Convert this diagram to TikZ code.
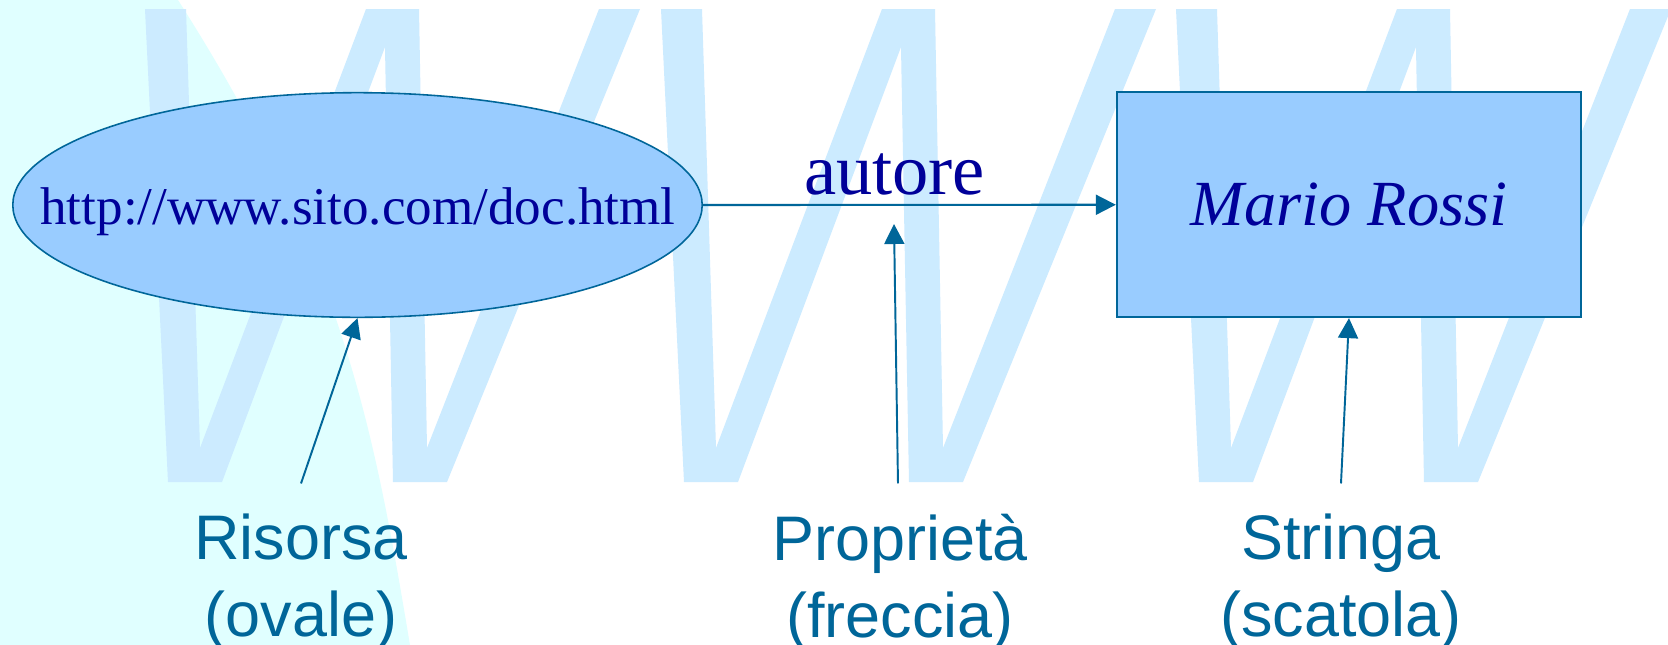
\documentclass[tikz,border=0pt]{standalone}
\usepackage{fontspec}
\setmainfont{Liberation Serif}
\newfontfamily\arialfont{Liberation Sans}
\definecolor{wwwblue}{RGB}{204,235,255}
\definecolor{bgcyan}{RGB}{224,255,255}
\definecolor{nodefill}{RGB}{153,204,255}
\definecolor{linkblue}{RGB}{0,102,153}
\definecolor{navytext}{RGB}{0,0,153}
\usetikzlibrary{shapes.geometric, arrows.meta}

\begin{document}
\begin{tikzpicture}[
  x=0.01cm, y=-0.01cm,
  oval/.style={ellipse, draw=linkblue, fill=nodefill, line width=0.45pt, minimum width=6.89cm, minimum height=2.245cm, inner sep=0pt},
  sbox/.style={draw=linkblue, fill=nodefill, line width=0.6pt, minimum width=4.64cm, minimum height=2.245cm, inner sep=0pt, text=navytext, font=\fontsize{18.3}{22}\selectfont\itshape},
  lbl/.style={align=center, anchor=north, inner sep=0pt, text=linkblue, font=\arialfont\fontsize{17.9}{21.9}\selectfont},
  ptr/.style={draw=linkblue, line width=0.55pt, -{Triangle[length=0.2cm, width=0.2cm]}}
]
  % background and WWW watermark
  \useasboundingbox (0,0) rectangle (1668,645);
  \fill[white] (0,0) rectangle (1668,645);
  \fill[bgcyan] (0,0) -- (178,0) .. controls (344,260) and (374,430) .. (410,645) -- (0,645) -- cycle;
  \foreach \dx in {0,516,1031}
    \fill[wwwblue, shift={(\dx,0)}] (145,9) -- (186,9) -- (200,448) -- (366,9) -- (419,9) -- (427,448) -- (599,9) -- (640,9) -- (447,482) -- (393,482) -- (385,47) -- (222,482) -- (168,482) -- cycle;

  % nodes
  \node[oval] (res) at (357.5,205) {};
  \node[anchor=base, inner sep=0pt, text=navytext, font=\fontsize{15.1}{18}\selectfont] (url) at (358,224) {http://www.sito.com/doc.html};
  \node[sbox] (str) at (1349,204.75) {Mario Rossi};
  \draw[ptr, line width=0.6pt] (res.east) -- node[pos=0.464, above=0.09cm, inner sep=0pt, text=navytext, font=\fontsize{20.6}{24}\selectfont] (prop) {autore} (str.west);
  \coordinate (proptip) at (894,224);

  % labels
  \node[lbl] (rlab) at (301,513) {Risorsa\\(ovale)};
  \node[lbl] (plab) at (900,513) {Proprietà\\(freccia)};
  \node[lbl] (slab) at (1341,513) {Stringa\\(scatola)};
  \draw[ptr] ([yshift=0.295cm]rlab.north) -- (res.south);
  \draw[ptr] ([xshift=-0.02cm, yshift=0.295cm]plab.north) -- (proptip);
  \draw[ptr] ([yshift=0.295cm]slab.north) -- (str.south);
\end{tikzpicture}
\end{document}
